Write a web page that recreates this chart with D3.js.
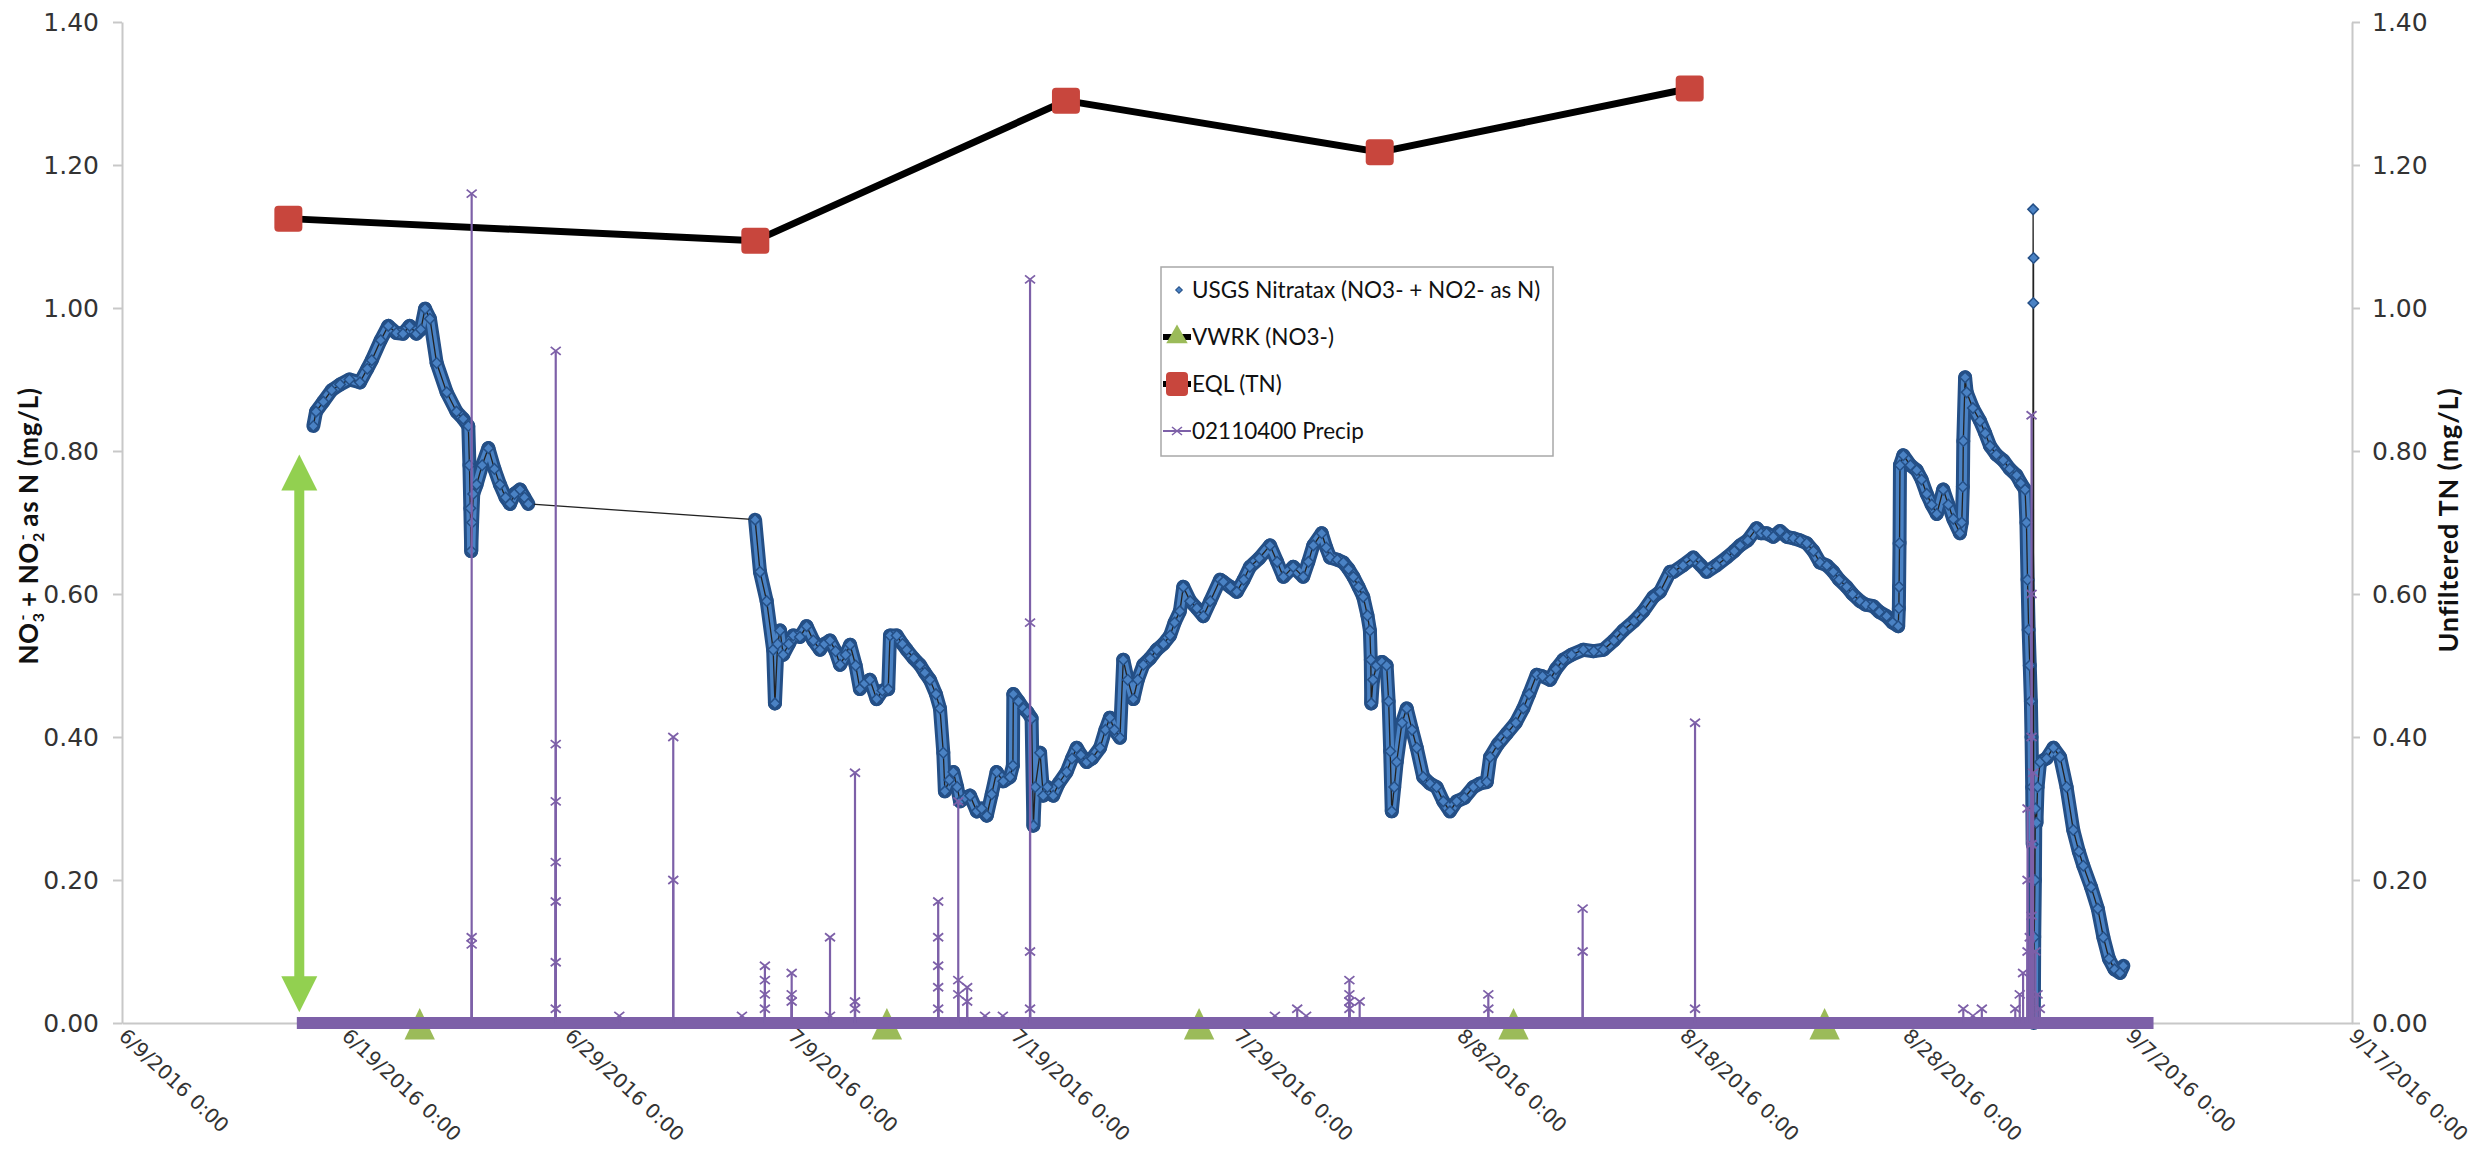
<!DOCTYPE html>
<html><head><meta charset="utf-8">
<script src="https://cdn.jsdelivr.net/npm/d3@7"></script>
<style>body{margin:0;background:#fff}svg{display:block}</style>
</head><body>
<svg id="chart" width="2484" height="1153"></svg>
<script>
// ---------------- DATA (days are days since 6/9/2016 0:00) ----------------
const xTickLabels = ["6/9/2016 0:00","6/19/2016 0:00","6/29/2016 0:00","7/9/2016 0:00","7/19/2016 0:00","7/29/2016 0:00","8/8/2016 0:00","8/18/2016 0:00","8/28/2016 0:00","9/7/2016 0:00","9/17/2016 0:00"];
const xTickDays = [0,10,20,30,40,50,60,70,80,90,100];
const yTickValues = [0,0.2,0.4,0.6,0.8,1.0,1.2,1.4];
const yTickLabels = ["0.00","0.20","0.40","0.60","0.80","1.00","1.20","1.40"];

const seriesNames = ["USGS Nitratax (NO3-  + NO2- as N)","VWRK (NO3-)","EQL (TN)","02110400 Precip"];

const nitrataxDays = [
 8.58,8.7,9.03,9.4,9.78,10.2,10.67,11.0,11.2,11.6,11.94,12.3,12.6,12.9,13.2,13.4,13.59,13.81,14.11,14.56,15.0,15.3,15.53,15.58,15.62,15.66,15.7,15.75,15.9,16.15,16.43,16.7,16.95,17.2,17.4,17.6,17.85,18.05,18.22,
 28.39,28.61,28.91,29.2,29.28,29.4,29.51,29.65,29.9,30.1,30.4,30.7,31.0,31.3,31.5,31.75,32.0,32.2,32.45,32.65,32.9,33.09,33.3,33.54,33.84,34.1,34.36,34.44,34.74,35.0,35.19,35.5,35.78,36.0,36.23,36.5,36.68,36.83,36.9,37.1,37.28,37.45,37.58,37.8,38.03,38.33,38.55,38.78,39.0,39.22,39.52,39.82,39.95,39.97,40.2,40.42,40.6,40.79,40.87,40.95,41.17,41.31,41.5,41.76,42.0,42.36,42.6,42.81,43.0,43.26,43.5,43.86,44.1,44.3,44.5,44.75,44.9,45.1,45.35,45.55,45.8,46.1,46.4,46.7,47.0,47.2,47.44,47.59,47.9,48.2,48.49,48.8,49.24,49.39,49.7,49.99,50.3,50.58,51.0,51.48,51.8,52.08,52.52,52.97,53.2,53.42,53.8,54.0,54.17,54.5,54.77,55.0,55.22,55.45,55.66,55.85,55.96,56.0,56.02,56.1,56.26,56.5,56.71,56.8,56.87,56.94,57.05,57.16,57.4,57.61,57.85,58.06,58.35,58.65,58.95,59.25,59.55,59.85,60.2,60.6,60.9,61.2,61.35,61.7,62.1,62.5,62.84,63.1,63.44,63.7,64.04,64.3,64.63,65.0,65.53,66.0,66.43,66.9,67.32,67.8,68.22,68.67,68.97,69.42,69.57,70.0,70.46,70.8,71.06,71.5,71.96,72.3,72.56,72.9,73.3,73.5,73.75,74.05,74.35,74.65,74.95,75.25,75.55,75.85,76.14,76.45,76.74,77.0,77.34,77.6,77.94,78.2,78.53,78.8,79.13,79.4,79.65,79.68,79.69,79.71,79.73,79.88,80.2,80.48,80.7,80.93,81.15,81.38,81.67,81.9,82.12,82.42,82.5,82.55,82.57,82.65,82.72,83.0,83.32,83.55,83.77,84.05,84.36,84.65,84.96,85.15,85.34,85.4,85.45,85.5,85.55,85.6,85.63,85.66,85.68,85.7,85.71,85.72,85.73,85.75,85.78,85.8,85.85,85.9,86.01,86.3,86.61,86.91,87.2,87.5,87.75,87.95,88.3,88.6,88.85,89.1,89.35,89.6,89.75
];
const nitrataxValues = [
 0.835,0.855,0.869,0.885,0.893,0.900,0.896,0.915,0.927,0.955,0.975,0.965,0.964,0.975,0.964,0.970,0.999,0.985,0.923,0.882,0.855,0.845,0.835,0.78,0.72,0.66,0.70,0.74,0.753,0.78,0.804,0.775,0.753,0.735,0.726,0.74,0.746,0.735,0.726,
 0.704,0.631,0.59,0.522,0.447,0.53,0.549,0.515,0.53,0.542,0.54,0.555,0.535,0.522,0.53,0.535,0.52,0.501,0.515,0.529,0.50,0.467,0.475,0.480,0.453,0.465,0.467,0.542,0.542,0.53,0.522,0.51,0.501,0.49,0.480,0.46,0.44,0.378,0.324,0.34,0.351,0.33,0.31,0.315,0.318,0.296,0.30,0.29,0.32,0.351,0.338,0.344,0.36,0.46,0.45,0.44,0.435,0.426,0.276,0.33,0.378,0.318,0.33,0.318,0.335,0.351,0.37,0.385,0.375,0.365,0.37,0.385,0.41,0.427,0.41,0.399,0.508,0.48,0.453,0.48,0.501,0.51,0.522,0.53,0.542,0.56,0.576,0.61,0.59,0.58,0.569,0.59,0.62,0.617,0.61,0.603,0.62,0.638,0.65,0.668,0.645,0.624,0.638,0.624,0.645,0.668,0.685,0.665,0.651,0.648,0.644,0.635,0.624,0.61,0.596,0.57,0.549,0.508,0.447,0.48,0.50,0.505,0.50,0.45,0.38,0.296,0.33,0.365,0.42,0.44,0.41,0.385,0.344,0.335,0.33,0.31,0.296,0.31,0.315,0.33,0.335,0.337,0.372,0.39,0.405,0.42,0.44,0.46,0.487,0.485,0.48,0.495,0.508,0.515,0.522,0.52,0.522,0.535,0.549,0.562,0.576,0.596,0.603,0.631,0.631,0.64,0.651,0.64,0.631,0.64,0.651,0.66,0.668,0.675,0.692,0.685,0.685,0.68,0.688,0.68,0.678,0.675,0.671,0.66,0.644,0.64,0.631,0.62,0.61,0.60,0.59,0.585,0.583,0.575,0.569,0.56,0.555,0.58,0.61,0.671,0.78,0.794,0.78,0.773,0.76,0.74,0.725,0.712,0.746,0.725,0.705,0.685,0.70,0.75,0.814,0.903,0.882,0.86,0.842,0.825,0.807,0.795,0.787,0.775,0.766,0.755,0.746,0.70,0.62,0.55,0.50,0.45,0.40,0.33,0.25,1.138,1.007,1.07,0.0,0.12,0.20,0.30,0.28,0.33,0.365,0.37,0.385,0.372,0.33,0.27,0.24,0.22,0.19,0.16,0.12,0.09,0.075,0.07,0.08
];

const vwrkDays = [13.35,34.3,48.3,62.4,76.35];
const vwrkValues = [0,0,0,0,0];

const eqlDays = [7.46,28.4,42.33,56.4,70.3];
const eqlValues = [1.125,1.094,1.29,1.218,1.307];

const precipRangeDays = [7.84,91.1];
const precipDays = [15.68,15.68,15.68,19.45,19.45,19.45,19.45,19.45,19.45,19.45,22.3,24.72,24.72,27.8,28.83,28.83,28.83,28.83,30.03,30.03,30.03,31.75,31.75,32.87,32.87,32.87,36.6,36.6,36.6,36.6,36.6,37.5,37.5,37.5,37.9,37.9,38.7,39.5,40.72,40.72,40.72,40.72,51.7,52.7,53.1,55.04,55.04,55.04,55.04,55.5,61.27,61.27,65.5,65.5,70.54,70.54,82.57,83.0,83.4,84.9,85.1,85.25,85.45,85.45,85.45,85.55,85.63,85.63,85.63,85.63,85.63,85.7,85.8,85.9,86.0];
const precipValues = [1.16,0.12,0.11,0.94,0.39,0.31,0.225,0.17,0.085,0.02,0.01,0.40,0.20,0.01,0.08,0.06,0.04,0.02,0.07,0.04,0.03,0.12,0.01,0.35,0.03,0.02,0.17,0.12,0.08,0.05,0.02,0.31,0.06,0.04,0.05,0.03,0.01,0.01,1.04,0.56,0.10,0.02,0.01,0.02,0.01,0.06,0.04,0.03,0.02,0.03,0.04,0.02,0.16,0.10,0.42,0.02,0.02,0.01,0.02,0.02,0.04,0.07,0.30,0.20,0.10,0.12,0.85,0.60,0.40,0.25,0.15,0.35,0.10,0.04,0.02];

const arrowDays = [7.95];
const arrowValues = [0.015,0.795];

// ---------------- CHART ----------------
const W = 2484, H = 1153;
const mLeft = 122, mRight = 2352, mTop = 22, mBottom = 1023;
const t0 = new Date(2016,5,9).getTime();
const toDate = d => new Date(t0 + d*864e5);

const x = d3.scaleTime().domain([toDate(0), toDate(100)]).range([mLeft, mRight]);
const y = d3.scaleLinear().domain([0,1.4]).range([mBottom, mTop]);
const y2 = d3.scaleLinear().domain([0,1.4]).range([mBottom, mTop]);

const svg = d3.select("#chart");
svg.append("rect").attr("width",W).attr("height",H).attr("fill","#fff");

const axisColor = "#c8c8c8";
const tickFont = "'DejaVu Sans', Verdana, sans-serif";
const textFont = "Lato, 'Open Sans', sans-serif";

// Left axis
const gL = svg.append("g").attr("transform",`translate(${mLeft},0)`)
  .call(d3.axisLeft(y).tickValues(yTickValues).tickFormat((d,i)=>yTickLabels[i]).tickSize(9).tickSizeOuter(0).tickPadding(14));
gL.selectAll("path,line").attr("stroke",axisColor).attr("stroke-width",2);
gL.selectAll("text").attr("font-family",tickFont).attr("font-size",25).attr("fill","#333");

// Right axis
const gR = svg.append("g").attr("transform",`translate(${mRight},0)`)
  .call(d3.axisRight(y2).tickValues(yTickValues).tickFormat((d,i)=>yTickLabels[i]).tickSize(8).tickSizeOuter(0).tickPadding(12));
gR.selectAll("path,line").attr("stroke",axisColor).attr("stroke-width",2);
gR.selectAll("text").attr("font-family",tickFont).attr("font-size",25).attr("fill","#333");

// Bottom axis
const gX = svg.append("g").attr("transform",`translate(0,${mBottom})`)
  .call(d3.axisBottom(x).tickValues(xTickDays.map(toDate)).tickFormat((d,i)=>xTickLabels[i]).tickSize(0).tickSizeOuter(0));
gX.select("path").attr("stroke",axisColor).attr("stroke-width",2);
gX.selectAll("text")
  .attr("font-family",tickFont).attr("font-size",20).attr("fill","#333")
  .attr("text-anchor","start").attr("dy","0.65em").attr("y",0)
  .attr("transform","translate(4,5) rotate(43)");

// Axis titles
const tL = svg.append("text").attr("transform","translate(38,526) rotate(-90)")
  .attr("text-anchor","middle").attr("font-family",textFont).attr("font-weight","bold").attr("font-size",26)
  .attr("letter-spacing",0.6).attr("fill","#111");
tL.append("tspan").text("NO");
tL.append("tspan").attr("font-size",16).attr("dy",6).text("3");
tL.append("tspan").attr("font-size",16).attr("dy",-16).attr("dx",-8).text("-");
tL.append("tspan").attr("dy",10).text(" + NO");
tL.append("tspan").attr("font-size",16).attr("dy",6).text("2");
tL.append("tspan").attr("font-size",16).attr("dy",-16).attr("dx",-8).text("-");
tL.append("tspan").attr("dy",10).text(" as N (mg/L)");

svg.append("text").attr("transform","translate(2458,520) rotate(-90)")
  .attr("text-anchor","middle").attr("font-family",textFont).attr("font-weight","bold").attr("font-size",27)
  .attr("letter-spacing",0.8).attr("fill","#111")
  .text("Unfiltered TN (mg/L)");

// ---- Nitratax ----
const nit = nitrataxDays.map((d,i)=>({d, v:nitrataxValues[i]}));
const gN = svg.append("g");
const segs = [];
for (let i=1;i<nit.length;i++){
  const a=nit[i-1], b=nit[i];
  if (b.d-a.d < 1.5 && Math.abs(b.v-a.v) < 0.2 && a.v < 1 && b.v < 1) segs.push([a,b]);
}
const segPath = s => `M${x(toDate(s[0].d))},${y(s[0].v)}L${x(toDate(s[1].d))},${y(s[1].v)}`;
gN.selectAll("path.bo").data(segs).join("path").attr("class","bo").attr("d",segPath)
  .attr("stroke","#244f86").attr("stroke-width",14).attr("stroke-linecap","round").attr("fill","none");
gN.selectAll("path.bi").data(segs).join("path").attr("class","bi").attr("d",segPath)
  .attr("stroke","#4a82c4").attr("stroke-width",8).attr("stroke-linecap","round").attr("fill","none");
gN.append("path").datum(nit)
  .attr("d",d3.line().x(p=>x(toDate(p.d))).y(p=>y(p.v)))
  .attr("fill","none").attr("stroke","#222").attr("stroke-width",1.3);
gN.selectAll("path.m").data(nit).join("path").attr("class","m")
  .attr("d",d3.symbol(d3.symbolSquare,55)())
  .attr("transform",p=>`translate(${x(toDate(p.d))},${y(p.v)}) rotate(45)`)
  .attr("fill","#4a82c4").attr("stroke","#244f86").attr("stroke-width",1.5);

// ---- VWRK ----
svg.append("g").selectAll("path").data(vwrkDays.map((d,i)=>({d,v:vwrkValues[i]}))).join("path")
  .attr("d",d3.symbol(d3.symbolTriangle,400)())
  .attr("transform",p=>`translate(${x(toDate(p.d))},${y(p.v)+6}) scale(1,1.2)`)
  .attr("fill","#9bbb59");

// ---- EQL ----
const eql = eqlDays.map((d,i)=>({d,v:eqlValues[i]}));
svg.append("path").datum(eql)
  .attr("d",d3.line().x(p=>x(toDate(p.d))).y(p=>y(p.v)))
  .attr("fill","none").attr("stroke","#000").attr("stroke-width",7).attr("stroke-linejoin","round");
svg.append("g").selectAll("rect").data(eql).join("rect")
  .attr("x",p=>x(toDate(p.d))-14).attr("y",p=>y(p.v)-13).attr("width",28).attr("height",26)
  .attr("rx",4).attr("fill","#c8463d");

// ---- Precip ----
const purple = "#7d60a8";
const gP = svg.append("g");
gP.append("line")
  .attr("x1",x(toDate(precipRangeDays[0]))).attr("x2",x(toDate(precipRangeDays[1])))
  .attr("y1",y(0)).attr("y2",y(0))
  .attr("stroke",purple).attr("stroke-width",12);
const pr = precipDays.map((d,i)=>({d,v:precipValues[i]}));
gP.selectAll("line.s").data(pr).join("line").attr("class","s")
  .attr("x1",p=>x(toDate(p.d))).attr("x2",p=>x(toDate(p.d)))
  .attr("y1",y(0)).attr("y2",p=>y(p.v))
  .attr("stroke",purple).attr("stroke-width",2.2);
gP.selectAll("path.x").data(pr).join("path").attr("class","x")
  .attr("d","M-5,-4L5,4M-5,4L5,-4")
  .attr("transform",p=>`translate(${x(toDate(p.d))},${y(p.v)})`)
  .attr("stroke",purple).attr("stroke-width",1.8).attr("fill","none");

// ---- Green annotation arrow ----
(function(){
  const ax = x(toDate(arrowDays[0]));
  const yb = y(arrowValues[0]), yt = y(arrowValues[1]);
  const sw = 5, hw = 18, hl = 36;
  const pts = [[ax,yt],[ax+hw,yt+hl],[ax+sw,yt+hl],[ax+sw,yb-hl],[ax+hw,yb-hl],[ax,yb],[ax-hw,yb-hl],[ax-sw,yb-hl],[ax-sw,yt+hl],[ax-hw,yt+hl]];
  svg.append("path").attr("d","M"+pts.map(p=>p.join(",")).join("L")+"Z").attr("fill","#92d050");
})();

// ---- Legend ----
const lg = svg.append("g");
const lgX = 1161;
lg.append("rect").attr("x",lgX).attr("y",267).attr("width",392).attr("height",189)
  .attr("fill","#fff").attr("stroke","#a8a8a8").attr("stroke-width",1.5);
const rowsY = [290,337,384,431];
lg.selectAll("text").data(seriesNames).join("text")
  .attr("x",lgX+31).attr("y",(d,i)=>rowsY[i]).attr("dy","0.35em")
  .attr("font-family",textFont).attr("font-size",22.5).attr("fill","#111").text(d=>d);
lg.append("path").attr("d",d3.symbol(d3.symbolSquare,22)()).attr("transform",`translate(${lgX+18},${rowsY[0]}) rotate(45)`)
  .attr("fill","#4a82c4").attr("stroke","#244f86");
lg.append("line").attr("x1",lgX+2).attr("x2",lgX+30).attr("y1",rowsY[1]).attr("y2",rowsY[1]).attr("stroke","#000").attr("stroke-width",6);
lg.append("path").attr("d",d3.symbol(d3.symbolTriangle,200)()).attr("transform",`translate(${lgX+16},${rowsY[1]})`).attr("fill","#9bbb59");
lg.append("line").attr("x1",lgX+2).attr("x2",lgX+30).attr("y1",rowsY[2]).attr("y2",rowsY[2]).attr("stroke","#000").attr("stroke-width",6);
lg.append("rect").attr("x",lgX+5).attr("y",rowsY[2]-12).attr("width",22).attr("height",24).attr("rx",4).attr("fill","#c8463d");
lg.append("line").attr("x1",lgX+2).attr("x2",lgX+30).attr("y1",rowsY[3]).attr("y2",rowsY[3]).attr("stroke",purple).attr("stroke-width",2);
lg.append("path").attr("d","M-5,-4L5,4M-5,4L5,-4").attr("transform",`translate(${lgX+16},${rowsY[3]})`).attr("stroke",purple).attr("stroke-width",1.6).attr("fill","none");
</script>
</body></html>
